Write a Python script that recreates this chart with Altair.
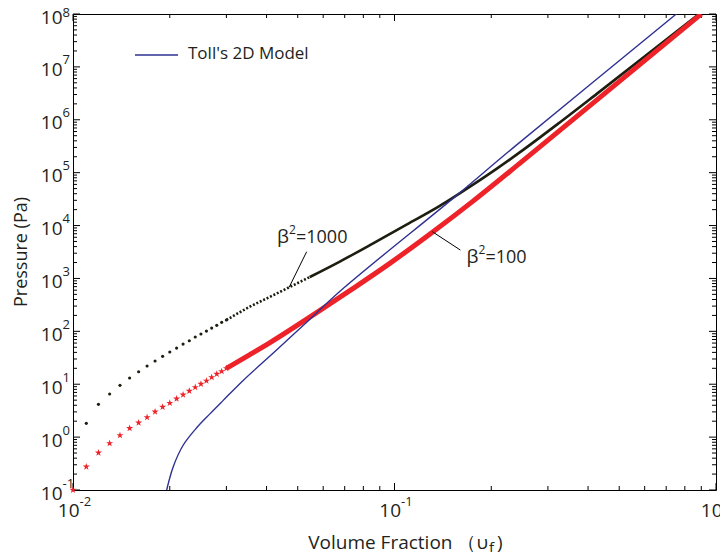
import altair as alt
import pandas as pd

# ---------------- data ----------------
# Toll's 2D model (blue line)
TOLL_X = [0.01956, 0.0205, 0.02203, 0.02424, 0.02666, 0.02933, 0.03383,
          0.04297, 0.05198, 0.06921, 0.1521, 0.2394, 0.7526]
TOLL_P = [0.1, 0.276, 0.709, 1.50, 2.75, 4.95, 11.8,
          44.3, 129, 644, 32700, 332000, 1.0e8]

# beta^2 = 100 (red stars, sparse part)
B100_STAR_X = [0.010, 0.011, 0.012, 0.013, 0.014, 0.015, 0.016, 0.017, 0.018, 0.019, 0.020,
               0.021, 0.022, 0.023, 0.024, 0.025, 0.026, 0.027, 0.028, 0.029, 0.030]
B100_STAR_P = [0.1, 0.275, 0.507, 0.764, 1.08, 1.47, 1.87, 2.37, 3.02, 3.71, 4.41,
               5.32, 6.33, 7.44, 8.74, 10.1, 11.6, 13.5, 15.6, 17.5, 20.0]
# beta^2 = 100 (dense part, stars merge into a band)
B100_BAND_X = [0.030, 0.0355, 0.0410, 0.0557, 0.0744, 0.0967, 0.1318, 0.1755, 0.2452, 0.4346, 0.9]
B100_BAND_P = [20.0, 36.4, 61.4, 203, 650, 1930, 7640, 29000, 150000, 2.63e6, 1.0e8]

# beta^2 = 1000 (black dots, sparse part)
B1000_DOT_X = [0.011, 0.012, 0.013, 0.014, 0.015, 0.016, 0.017, 0.018, 0.019, 0.020,
               0.021, 0.022, 0.023, 0.024, 0.025, 0.026, 0.027, 0.028, 0.029, 0.030]
B1000_DOT_P = [1.82, 4.17, 6.53, 9.53, 13.1, 17.2, 22.1, 27.5, 33.7, 40.6,
               48.3, 57.5, 66.4, 78, 88.9, 101, 115, 130, 148, 164]
# beta^2 = 1000 (dense part)
B1000_BAND_X = [0.030, 0.0355, 0.0410, 0.0470, 0.0545, 0.0676, 0.0858, 0.1090, 0.1383,
                0.1521, 0.1755, 0.2076, 0.2452, 0.3265, 0.4346, 0.9]
B1000_BAND_P = [164, 292, 449, 679, 1063, 2087, 4608, 10390, 23500,
                33700, 59300, 118000, 241500, 889000, 3.41e6, 1.08e8]
DOTTED_UNTIL = 0.0545

# annotations
ANN_BASE = ["β", "β"]
ANN_SUP = ["2", "2"]
ANN_REST = ["=1000", "=100"]
ANN_TEXT_X = [0.0431, 0.1674]
ANN_TEXT_P = [4670, 1954]
ANN_LINE_X1 = [0.0470, 0.1312]
ANN_LINE_P1 = [679, 7640]
ANN_LINE_X2 = [0.0533, 0.1603]
ANN_LINE_P2 = [3200, 3440]

LEGEND_LABEL = "Toll's 2D Model"
X_TITLE_MAIN = "Volume Fraction （υ"
X_TITLE_SUB = "f"
X_TITLE_END = ")"
Y_TITLE = "Pressure (Pa)"

# tick values
MAJOR_X = [0.01, 0.1, 1.0]
MINOR_X = [k * 10.0 ** e for e in (-2, -1) for k in range(2, 10)]
MAJOR_Y = [10.0 ** e for e in range(-1, 9)]
MINOR_Y = [k * 10.0 ** e for e in range(-1, 8) for k in range(2, 10)]

# ---------------- styling ----------------
FONT = "Open Sans"
TXT = "#231f20"
BLUE = "#2e3192"
RED = "#ee2229"
BLK = "#1e1e10"
STAR = ("M0,-1L0.2245,-0.309L0.951,-0.309L0.363,0.118L0.588,0.809L0,0.382"
        "L-0.588,0.809L-0.363,0.118L-0.951,-0.309L-0.2245,-0.309Z")
W, H = 643, 476
MAJ, MIN = 7, 4

xs = alt.Scale(type="log", domain=[0.01, 1.0], nice=False)
ys = alt.Scale(type="log", domain=[0.1, 1.0e8], nice=False)

EXP = "'' + round(log(datum.value) / LN10)"

common = dict(grid=False, title=None, labelFlush=False, labelOverlap=False, labelBound=False,
              ticks=False, domain=False)

ax_x_lab = alt.Axis(orient="bottom", values=MAJOR_X, labelExpr="'10'",
                    labelFont=FONT, labelFontSize=19, labelColor=TXT,
                    labelAlign="right", labelOffset=6, labelBaseline="middle", labelPadding=20,
                    **common)
ax_y_lab = alt.Axis(orient="left", values=MAJOR_Y, labelExpr="'10'",
                    labelFont=FONT, labelFontSize=19, labelColor=TXT,
                    labelAlign="right", labelOffset=3, labelBaseline="middle", labelPadding=11,
                    **common)
ax_x_exp = alt.Axis(orient="bottom", values=MAJOR_X, labelExpr=EXP,
                    labelFont=FONT, labelFontSize=13, labelColor=TXT,
                    labelAlign="left", labelOffset=6, labelBaseline="middle", labelPadding=11,
                    **common)
ax_y_exp = alt.Axis(orient="left", values=MAJOR_Y, labelExpr=EXP,
                    labelFont=FONT, labelFontSize=13, labelColor=TXT,
                    labelAlign="left",
                    labelOffset={"condition": {"test": "datum.value > 5e7", "value": -2},
                                 "value": -7},
                    labelBaseline="middle", labelPadding=11,
                    **common)


def enc(xa, ya):
    return dict(x=alt.X("x:Q", scale=xs, axis=xa), y=alt.Y("p:Q", scale=ys, axis=ya))


toll = pd.DataFrame({"x": TOLL_X, "p": TOLL_P})
stars = pd.DataFrame({"x": B100_STAR_X, "p": B100_STAR_P})
band100 = pd.DataFrame({"x": B100_BAND_X, "p": B100_BAND_P})
dots = pd.DataFrame({"x": B1000_DOT_X, "p": B1000_DOT_P})
band1000 = pd.DataFrame({"x": B1000_BAND_X, "p": B1000_BAND_P})

l_dots = alt.Chart(dots).mark_circle(size=10, color=BLK, opacity=1).encode(**enc(None, None))
l_dotted = alt.Chart(band1000).transform_filter(alt.datum.x <= DOTTED_UNTIL + 1e-9).mark_line(
    color=BLK, strokeWidth=2.6, strokeDash=[2, 1.8], clip=True, interpolate="monotone"
).encode(**enc(None, None))
l_solid = alt.Chart(band1000).transform_filter(alt.datum.x >= DOTTED_UNTIL - 1e-9).mark_line(
    color=BLK, strokeWidth=2.6, clip=True, interpolate="monotone").encode(**enc(None, None))
l_band = alt.Chart(band100).mark_line(
    color=RED, strokeWidth=5, clip=True, interpolate="monotone").encode(**enc(None, None))
l_stars = alt.Chart(stars).mark_point(shape=STAR, filled=True, size=55, color=RED, opacity=1).encode(
    **enc(ax_x_exp, ax_y_exp))
l_toll = alt.Chart(toll).mark_line(color=BLUE, strokeWidth=1.4, clip=True,
                                   interpolate="catmull-rom").encode(**enc(ax_x_lab, ax_y_lab))


# inward tick marks on all four sides (positions come from the tick values through the scales)
def xticks(values, y0, y1):
    return alt.Chart(pd.DataFrame({"v": values})).mark_rule(color="black", strokeWidth=1).encode(
        x=alt.X("v:Q", scale=xs, axis=None), y=alt.value(y0), y2=alt.value(y1))


def yticks(values, x0, x1):
    return alt.Chart(pd.DataFrame({"v": values})).mark_rule(color="black", strokeWidth=1).encode(
        y=alt.Y("v:Q", scale=ys, axis=None), x=alt.value(x0), x2=alt.value(x1))


tick_layers = [
    xticks(MAJOR_X, H, H - MAJ), xticks(MINOR_X, H, H - MIN),
    xticks(MAJOR_X, 0, MAJ), xticks(MINOR_X, 0, MIN),
    yticks(MAJOR_Y, 0, MAJ), yticks(MINOR_Y, 0, MIN),
    yticks(MAJOR_Y, W, W - MAJ), yticks(MINOR_Y, W, W - MIN),
]

ann_lines = pd.DataFrame({"x": ANN_LINE_X1, "p": ANN_LINE_P1, "x2": ANN_LINE_X2, "p2": ANN_LINE_P2})
l_ann_lines = alt.Chart(ann_lines).mark_rule(color="black", strokeWidth=1).encode(
    x=alt.X("x:Q", scale=xs, axis=None), y=alt.Y("p:Q", scale=ys, axis=None),
    x2="x2:Q", y2="p2:Q")
ann_txt = pd.DataFrame({"x": ANN_TEXT_X, "p": ANN_TEXT_P,
                        "b": ANN_BASE, "s": ANN_SUP, "r": ANN_REST})
ann_base = alt.Chart(ann_txt).encode(x=alt.X("x:Q", scale=xs, axis=None),
                                     y=alt.Y("p:Q", scale=ys, axis=None))
l_ann_b = ann_base.mark_text(font=FONT, fontSize=19, color=TXT, align="left",
                             baseline="alphabetic").encode(text="b:N")
l_ann_s = ann_base.mark_text(font=FONT, fontSize=12, color=TXT, align="left",
                             baseline="alphabetic", dx=12, dy=-9).encode(text="s:N")
l_ann_r = ann_base.mark_text(font=FONT, fontSize=18, color=TXT, align="left",
                             baseline="alphabetic", dx=19).encode(text="r:N")

leg = pd.DataFrame({"t": [LEGEND_LABEL]})
l_leg_line = alt.Chart(leg).mark_rule(color=BLUE, strokeWidth=1.6).encode(
    x=alt.value(62), x2=alt.value(105), y=alt.value(41))
l_leg_txt = alt.Chart(leg).mark_text(font=FONT, fontSize=17, color=TXT, align="left",
                                     baseline="middle").encode(
    x=alt.value(115), y=alt.value(40), text="t:N")

# axis titles as text
yt = pd.DataFrame({"t": [Y_TITLE]})
l_ytitle = alt.Chart(yt).mark_text(font=FONT, fontSize=18, color=TXT, angle=270,
                                   align="center", baseline="middle").encode(
    x=alt.value(-51), y=alt.value(H / 2), text="t:N")
xt1 = pd.DataFrame({"t": [X_TITLE_MAIN]})
xt2 = pd.DataFrame({"t": [X_TITLE_SUB]})
xt3 = pd.DataFrame({"t": [X_TITLE_END]})
l_xt1 = alt.Chart(xt1).mark_text(font=FONT, fontSize=19, color=TXT, align="right",
                                 baseline="middle").encode(x=alt.value(415), y=alt.value(529), text="t:N")
l_xt2 = alt.Chart(xt2).mark_text(font=FONT, fontSize=15, color=TXT, align="left",
                                 baseline="middle").encode(x=alt.value(416), y=alt.value(534), text="t:N")
l_xt3 = alt.Chart(xt3).mark_text(font=FONT, fontSize=19, color=TXT, align="left",
                                 baseline="middle").encode(x=alt.value(424), y=alt.value(529), text="t:N")

chart = alt.layer(
    *tick_layers,
    l_dots, l_dotted, l_solid, l_band, l_stars, l_toll,
    l_ann_lines, l_ann_b, l_ann_s, l_ann_r, l_leg_line, l_leg_txt, l_ytitle, l_xt1, l_xt2, l_xt3
).resolve_axis(x="independent", y="independent").properties(
    width=W, height=H,
    autosize=alt.AutoSizeParams(type="none"),
    padding={"left": 65, "top": 6, "right": 4, "bottom": 62},
    background="white",
).configure_view(stroke="black", strokeWidth=1)

chart.save("out.html", embed_options={"renderer": "svg", "actions": False})
